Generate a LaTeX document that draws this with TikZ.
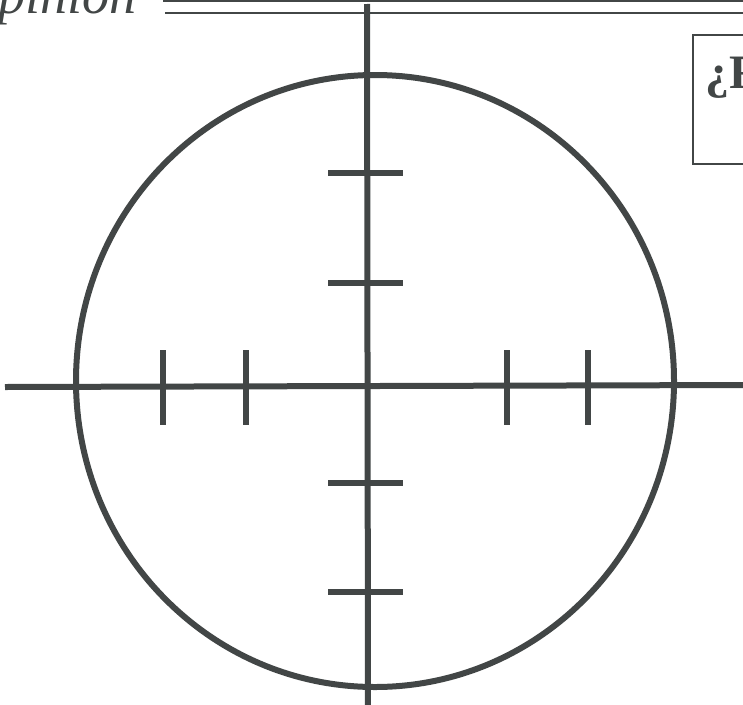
\documentclass[tikz,border=0pt]{standalone}
\usepackage{fontspec}
\setmainfont{Liberation Serif}
\usepackage{tikz}
\usetikzlibrary{positioning}
\definecolor{inkgray}{RGB}{66,70,70}
\tikzset{
  axisline/.style={draw=inkgray,line width=6pt},
  tickmark/.style={draw=inkgray,line width=6pt},
  ruleline/.style={draw=inkgray,line width=1.6pt},
}

\begin{document}
\begin{tikzpicture}[x=1pt,y=-1pt]
    \useasboundingbox (0,0) rectangle (743,704);
    % header
    \node[anchor=base east,inner sep=0pt,text=inkgray,font=\fontsize{54}{54}\selectfont\itshape] (head) at (137,13) {Opinion};
    \coordinate (rA) at (163,1);
    \coordinate (rB) at (165,13);
    \draw[ruleline] (rA) -- (rA -| 760,0);
    \draw[ruleline] (rB) -- (rB -| 760,0);
    % question box
    \draw[inkgray,line width=2.6pt] (693,35) rectangle (770,164);
    \node[anchor=base west,inner sep=0pt,text=inkgray,font=\fontsize{48}{48}\selectfont\bfseries] (quest) at (705,88) {¿F};
    % target
    \coordinate (c) at (375,381);
    \draw[axisline] (c) ellipse [x radius=299,y radius=306];
    \draw[axisline] (367,4) -- (368,710);
    \draw[axisline] (5,387) -- (750,385);
    \foreach \xx in {163,246,507,588}
      \draw[tickmark] (\xx,350) -- (\xx,425);
    \foreach \yy in {173,283,483,592}
      \draw[tickmark] (328,\yy) -- (403,\yy);
  \end{tikzpicture}
\end{document}
